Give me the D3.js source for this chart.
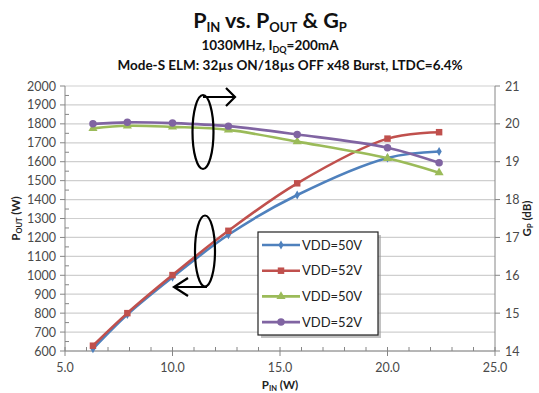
<!DOCTYPE html>
<html><head><meta charset="utf-8">
<script src="https://cdn.jsdelivr.net/npm/d3@7"></script>
<style>body{margin:0;background:#fff}svg{display:block}text{font-family:Lato,"Liberation Sans",sans-serif}</style>
</head><body><svg id="c" width="539" height="393"></svg>
<script>
const pin = [6.3, 7.9, 10.0, 12.6, 15.8, 20.0, 22.4];
const pout50 = [612, 793, 990, 1214, 1424, 1620, 1654];
const pout52 = [628, 800, 1001, 1235, 1486, 1722, 1756];
const gp50 = [19.88, 19.95, 19.92, 19.84, 19.53, 19.09, 18.71];
const gp52 = [20.00, 20.04, 20.02, 19.94, 19.72, 19.37, 18.97];
const legendLabels = ["VDD=50V", "VDD=52V", "VDD=50V", "VDD=52V"];
const xTicks = [5, 10, 15, 20, 25];
const yTicks = d3.range(600, 2001, 100);
const y2Ticks = d3.range(14, 22, 1);

const svg = d3.select("#c");
const L = 65, R = 495, T = 86, B = 351;
const x = d3.scaleLinear().domain([5, 25]).range([L, R]);
const y = d3.scaleLinear().domain([600, 2000]).range([B, T]);
const y2 = d3.scaleLinear().domain([14, 21]).range([B, T]);
const axisCol = "#868686", txtCol = "#4a4a4a";

// gridlines
svg.append("g").selectAll("line").data(yTicks).join("line")
  .attr("x1", L).attr("x2", R).attr("y1", d => y(d)).attr("y2", d => y(d))
  .attr("stroke", "#cfcfcf").attr("stroke-width", 1.2);

// axes lines
svg.append("line").attr("x1", L).attr("x2", L).attr("y1", T).attr("y2", B).attr("stroke", axisCol);
svg.append("line").attr("x1", R).attr("x2", R).attr("y1", T).attr("y2", B).attr("stroke", axisCol);
svg.append("line").attr("x1", L).attr("x2", R).attr("y1", B).attr("y2", B).attr("stroke", axisCol);

// left ticks
const gl = svg.append("g");
gl.selectAll("line.maj").data(yTicks).join("line").attr("class", "maj")
  .attr("x1", L - 5).attr("x2", L).attr("y1", d => y(d)).attr("y2", d => y(d)).attr("stroke", axisCol);
gl.selectAll("line.min").data(d3.range(650, 2000, 100)).join("line").attr("class", "min")
  .attr("x1", L).attr("x2", L + 4).attr("y1", d => y(d)).attr("y2", d => y(d)).attr("stroke", axisCol);
gl.selectAll("text").data(yTicks).join("text")
  .attr("x", L - 9).attr("y", d => y(d) + 4.5).attr("text-anchor", "end")
  .attr("font-size", 12.5).attr("fill", txtCol).text(d => d);

// right ticks
const gr = svg.append("g");
gr.selectAll("line").data(y2Ticks).join("line")
  .attr("x1", R).attr("x2", R + 5).attr("y1", d => y2(d)).attr("y2", d => y2(d)).attr("stroke", axisCol);
gr.selectAll("text").data(y2Ticks).join("text")
  .attr("x", R + 10).attr("y", d => y2(d) + 4.5)
  .attr("font-size", 12.5).attr("fill", txtCol).text(d => d);

// bottom ticks
const gb = svg.append("g");
gb.selectAll("line.maj").data(xTicks).join("line").attr("class", "maj")
  .attr("x1", d => x(d)).attr("x2", d => x(d)).attr("y1", B - 4).attr("y2", B + 5).attr("stroke", axisCol);
gb.selectAll("line.min").data(d3.range(6, 25, 1).filter(d => d % 5 !== 0)).join("line").attr("class", "min")
  .attr("x1", d => x(d)).attr("x2", d => x(d)).attr("y1", B - 4).attr("y2", B).attr("stroke", axisCol);
gb.selectAll("text").data(xTicks).join("text")
  .attr("x", d => x(d)).attr("y", B + 21).attr("text-anchor", "middle")
  .attr("font-size", 12.5).attr("fill", txtCol).text(d => d.toFixed(1));

// axis titles
const xt = svg.append("text").attr("x", (L + R) / 2).attr("y", 389).attr("text-anchor", "middle")
  .attr("font-size", 11.5).attr("font-weight", "bold").attr("fill", "#222");
xt.append("tspan").text("P");
xt.append("tspan").attr("font-size", 7.5).attr("dy", 2).text("IN");
xt.append("tspan").attr("dy", -2).text(" (W)");

const yt = svg.append("text").attr("transform", `translate(20,${(T + B) / 2}) rotate(-90)`).attr("text-anchor", "middle")
  .attr("font-size", 11.5).attr("font-weight", "bold").attr("fill", "#222");
yt.append("tspan").text("P");
yt.append("tspan").attr("font-size", 7.5).attr("dy", 2).text("OUT");
yt.append("tspan").attr("dy", -2).text(" (W)");

const y2t = svg.append("text").attr("transform", `translate(531,${(T + B) / 2}) rotate(-90)`).attr("text-anchor", "middle")
  .attr("font-size", 11.5).attr("font-weight", "bold").attr("fill", "#222");
y2t.append("tspan").text("G");
y2t.append("tspan").attr("font-size", 7.5).attr("dy", 2).text("P");
y2t.append("tspan").attr("dy", -2).text(" (dB)");

// titles
const cx = 270;
const t1 = svg.append("text").attr("x", cx).attr("y", 28).attr("text-anchor", "middle")
  .attr("font-size", 21.5).attr("font-weight", "bold").attr("fill", "#111");
t1.append("tspan").text("P");
t1.append("tspan").attr("font-size", 13).attr("dy", 4).text("IN");
t1.append("tspan").attr("dy", -4).text(" vs. P");
t1.append("tspan").attr("font-size", 13).attr("dy", 4).text("OUT");
t1.append("tspan").attr("dy", -4).text(" & G");
t1.append("tspan").attr("font-size", 13).attr("dy", 4).text("P");

const t2 = svg.append("text").attr("x", cx).attr("y", 50).attr("text-anchor", "middle")
  .attr("font-size", 13.5).attr("font-weight", "bold").attr("fill", "#111");
t2.append("tspan").text("1030MHz, I");
t2.append("tspan").attr("font-size", 9).attr("dy", 3).text("DQ");
t2.append("tspan").attr("dy", -3).text("=200mA");

svg.append("text").attr("x", 290).attr("y", 70).attr("text-anchor", "middle")
  .attr("font-size", 13.5).attr("font-weight", "bold").attr("fill", "#111")
  .text("Mode-S ELM: 32µs ON/18µs OFF x48 Burst, LTDC=6.4%");

// series
const series = [
  {vals: pout50, sc: y, col: "#4F81BD", m: "diamond"},
  {vals: pout52, sc: y, col: "#C0504D", m: "square"},
  {vals: gp50, sc: y2, col: "#9BBB59", m: "triangle"},
  {vals: gp52, sc: y2, col: "#8064A2", m: "circle"}
];
const sym = {diamond: d3.symbolDiamond, square: d3.symbolSquare, triangle: d3.symbolTriangle, circle: d3.symbolCircle};
const sz = {diamond: 24, square: 42, triangle: 36, circle: 44};
series.forEach(s => {
  const line = d3.line().x((d, i) => x(pin[i])).y(d => s.sc(d)).curve(d3.curveCatmullRom.alpha(0.5));
  svg.append("path").attr("d", line(s.vals)).attr("fill", "none").attr("stroke", s.col).attr("stroke-width", 2.6);
  svg.append("g").selectAll("path").data(s.vals).join("path")
    .attr("transform", (d, i) => `translate(${x(pin[i])},${s.sc(d)})`)
    .attr("d", d3.symbol().type(sym[s.m]).size(sz[s.m])).attr("fill", s.col);
});

// annotations
const ann = svg.append("g").attr("fill", "none").attr("stroke", "#000").attr("stroke-width", 2.2);
ann.append("ellipse").attr("cx", 203).attr("cy", 132).attr("rx", 10.5).attr("ry", 37);
ann.append("path").attr("d", "M203,97 L235,97 M226,88 L235,97 L226,106");
ann.append("ellipse").attr("cx", 205).attr("cy", 251).attr("rx", 10).attr("ry", 35.5);
ann.append("path").attr("d", "M207,287 L174,287 M188,278 L174,287 L188,296");

// legend
const lg = svg.append("g");
lg.append("rect").attr("x", 261).attr("y", 235).attr("width", 120).attr("height", 103).attr("fill", "#999").attr("opacity", 0.6);
lg.append("rect").attr("x", 258).attr("y", 232).attr("width", 120).attr("height", 103).attr("fill", "#fff").attr("stroke", "#222").attr("stroke-width", 1.2);
series.forEach((s, i) => {
  const yy = 245 + i * 25.7;
  lg.append("line").attr("x1", 262).attr("x2", 300).attr("y1", yy).attr("y2", yy).attr("stroke", s.col).attr("stroke-width", 2.6);
  lg.append("path").attr("transform", `translate(281,${yy})`).attr("d", d3.symbol().type(sym[s.m]).size(sz[s.m])).attr("fill", s.col);
  lg.append("text").attr("x", 302).attr("y", yy + 4.5).attr("font-size", 13).attr("fill", "#222").text(legendLabels[i]);
});
</script></body></html>
